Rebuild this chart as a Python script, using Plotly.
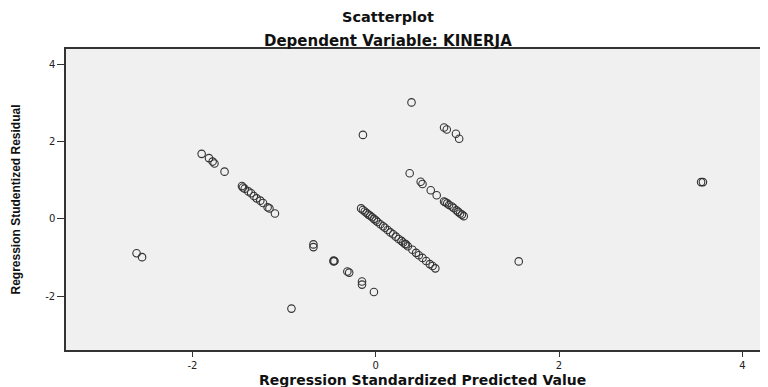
import plotly.graph_objects as go

# Regression Standardized Predicted Value (x) and Regression Studentized Residual (y)
pred = [
    -2.61, -2.55,
    -1.90, -1.82, -1.78, -1.76, -1.65,
    -1.46, -1.45, -1.43, -1.39, -1.36, -1.33, -1.30, -1.26, -1.23, -1.18, -1.16, -1.10,
    -0.92, -0.68, -0.68, -0.46, -0.46, -0.45, -0.31, -0.29, -0.15, -0.15, -0.02,
    -0.14, 0.39, 0.745, 0.775, 0.875, 0.91,
    0.37, 0.49, 0.51, 0.60, 0.665, 0.745, 0.76, 0.78, 0.80, 0.83, 0.85, 0.88, 0.90, 0.92, 0.94, 0.96,
    -0.16, -0.14, -0.12, -0.10, -0.08, -0.06, -0.04, -0.02, 0.00, 0.02, 0.05, 0.08, 0.10, 0.13,
    0.16, 0.19, 0.22, 0.25, 0.28, 0.30, 0.32, 0.33, 0.35, 0.40, 0.44, 0.47, 0.51, 0.55, 0.59, 0.62, 0.65,
    1.56, 3.55, 3.57,
]
resid = [
    -0.89, -0.99,
    1.68, 1.57, 1.48, 1.43, 1.22,
    0.85, 0.81, 0.78, 0.71, 0.66, 0.59, 0.53, 0.47, 0.41, 0.30, 0.27, 0.14,
    -2.32, -0.66, -0.73, -1.08, -1.10, -1.09, -1.36, -1.39, -1.62, -1.70, -1.89,
    2.17, 3.01, 2.36, 2.31, 2.20, 2.07,
    1.18, 0.96, 0.90, 0.74, 0.61, 0.45, 0.43, 0.40, 0.36, 0.32, 0.28, 0.22, 0.18, 0.14, 0.11, 0.07,
    0.27, 0.23, 0.19, 0.15, 0.11, 0.08, 0.04, 0.00, -0.04, -0.08, -0.14, -0.19, -0.23, -0.29,
    -0.35, -0.40, -0.46, -0.52, -0.57, -0.61, -0.65, -0.66, -0.71, -0.80, -0.88, -0.94, -1.01, -1.09, -1.17, -1.22, -1.28,
    -1.10, 0.95, 0.95,
]

x_ticks = [-2, 0, 2, 4]
x_tick_labels = ["-2", "0", "2", "4"]
y_ticks = [-2, 0, 2, 4]
y_tick_labels = ["-2", "0", "2", "4"]

title_line1 = "Scatterplot"
title_line2 = "Dependent Variable: KINERJA"
x_title = "Regression Standardized Predicted Value"
y_title = "Regression Studentized Residual"

fig = go.Figure()
fig.add_trace(go.Scatter(
    x=pred, y=resid, mode="markers",
    marker=dict(symbol="circle-open", size=7.5, color="#333333", line=dict(width=1.1)),
    showlegend=False, hoverinfo="x+y",
))

axis_common = dict(
    showgrid=False, zeroline=False, showline=True, linecolor="#333333", linewidth=1.5,
    ticks="outside", tickcolor="#333333", tickwidth=1.2,
    tickfont=dict(family="DejaVu Sans", size=10, color="#222222"),
)

fig.update_layout(
    width=760, height=379,
    margin=dict(l=58, r=0, t=41, b=37),
    paper_bgcolor="white", plot_bgcolor="#f0f0f0",
    xaxis=dict(range=[-3.38, 4.28], tickvals=x_ticks, ticktext=x_tick_labels,
               ticklen=5, mirror=True, **axis_common),
    yaxis=dict(range=[-3.39, 4.39], tickvals=y_ticks, ticktext=y_tick_labels,
               ticklen=7, mirror=False, **axis_common),
    annotations=[
        dict(text="<b>%s</b>" % title_line1, xref="paper", yref="paper", x=0.458, y=1.106,
             xanchor="center", yanchor="middle", showarrow=False,
             font=dict(family="DejaVu Sans", size=14.5, color="#111111")),
        dict(text="<b>%s</b>" % title_line2, xref="paper", yref="paper", x=0.458, y=1.027,
             xanchor="center", yanchor="middle", showarrow=False,
             font=dict(family="DejaVu Sans", size=15, color="#111111")),
        dict(text="<b>%s</b>" % x_title, xref="paper", yref="paper", x=0.5085, y=-0.0997,
             xanchor="center", yanchor="middle", showarrow=False,
             font=dict(family="DejaVu Sans", size=14, color="#111111")),
        dict(text="<b>%s</b>" % y_title, xref="paper", yref="paper", x=-0.0726, y=0.5,
             xanchor="center", yanchor="middle", showarrow=False, textangle=-90,
             font=dict(family="Liberation Sans", size=12, color="#111111")),
    ],
)

fig.write_html("out.html")
